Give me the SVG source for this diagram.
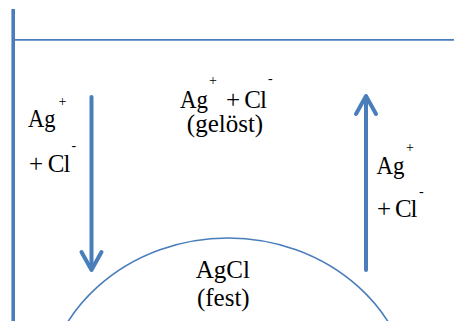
<svg xmlns="http://www.w3.org/2000/svg" width="454" height="321" viewBox="0 0 454 321">
  <style>
    text { font-family: 'Liberation Serif', 'DejaVu Serif', serif; font-size: 25px; fill: #000; }
    .sup { font-size: 14px; }
    .line { stroke: #4a7ebb; fill: none; }
    .arrow { stroke: #4a7ebb; fill: none; stroke-width: 4; stroke-linecap: round; stroke-linejoin: round; }
  </style>
  <rect width="454" height="321" fill="#fff"/>
  <g id="connectors">
    <line class="line" x1="13.2" y1="9" x2="13.2" y2="321" stroke-width="3.6"/>
    <line class="line" x1="13" y1="39.8" x2="454" y2="39.8" stroke-width="1.8"/>
    <g id="arrow-down">
      <line class="arrow" x1="91.5" y1="97" x2="91.5" y2="269" stroke-linecap="butt"/>
      <polyline class="arrow" points="81.5,252 91.5,270 101.5,252"/>
    </g>
    <g id="arrow-up">
      <line class="arrow" x1="366" y1="97" x2="366" y2="270" stroke-linecap="butt"/>
      <polyline class="arrow" points="356,114 366,96 376,114"/>
    </g>
  </g>
  <g id="solution">
    <text><tspan x="180" y="107.5" textLength="28" lengthAdjust="spacingAndGlyphs">Ag</tspan><tspan class="sup" x="209" y="85.2">+</tspan><tspan x="226" y="107.5" textLength="41" lengthAdjust="spacing">+ Cl</tspan><tspan class="sup" x="268" y="83">-</tspan></text>
    <text x="225" y="132" text-anchor="middle">(gelöst)</text>
  </g>
  <g id="left-ions">
    <text><tspan x="28" y="126.7" textLength="27.5" lengthAdjust="spacingAndGlyphs">Ag</tspan><tspan class="sup" x="58.5" y="106.2">+</tspan></text>
    <text><tspan x="29" y="171.7" textLength="41.5" lengthAdjust="spacing">+ Cl</tspan><tspan class="sup" x="71.5" y="150">-</tspan></text>
  </g>
  <g id="right-ions">
    <text><tspan x="376.5" y="174" textLength="28" lengthAdjust="spacingAndGlyphs">Ag</tspan><tspan class="sup" x="406" y="151.8">+</tspan></text>
    <text><tspan x="377" y="216.7" textLength="40.5" lengthAdjust="spacing">+ Cl</tspan><tspan class="sup" x="419" y="196">-</tspan></text>
  </g>
  <g id="solid">
    <ellipse class="line" cx="228" cy="406" rx="185" ry="168" stroke-width="1.6"/>
    <text x="222.8" y="277.7" text-anchor="middle">AgCl</text>
    <text x="223.3" y="306" text-anchor="middle">(fest)</text>
  </g>
</svg>
